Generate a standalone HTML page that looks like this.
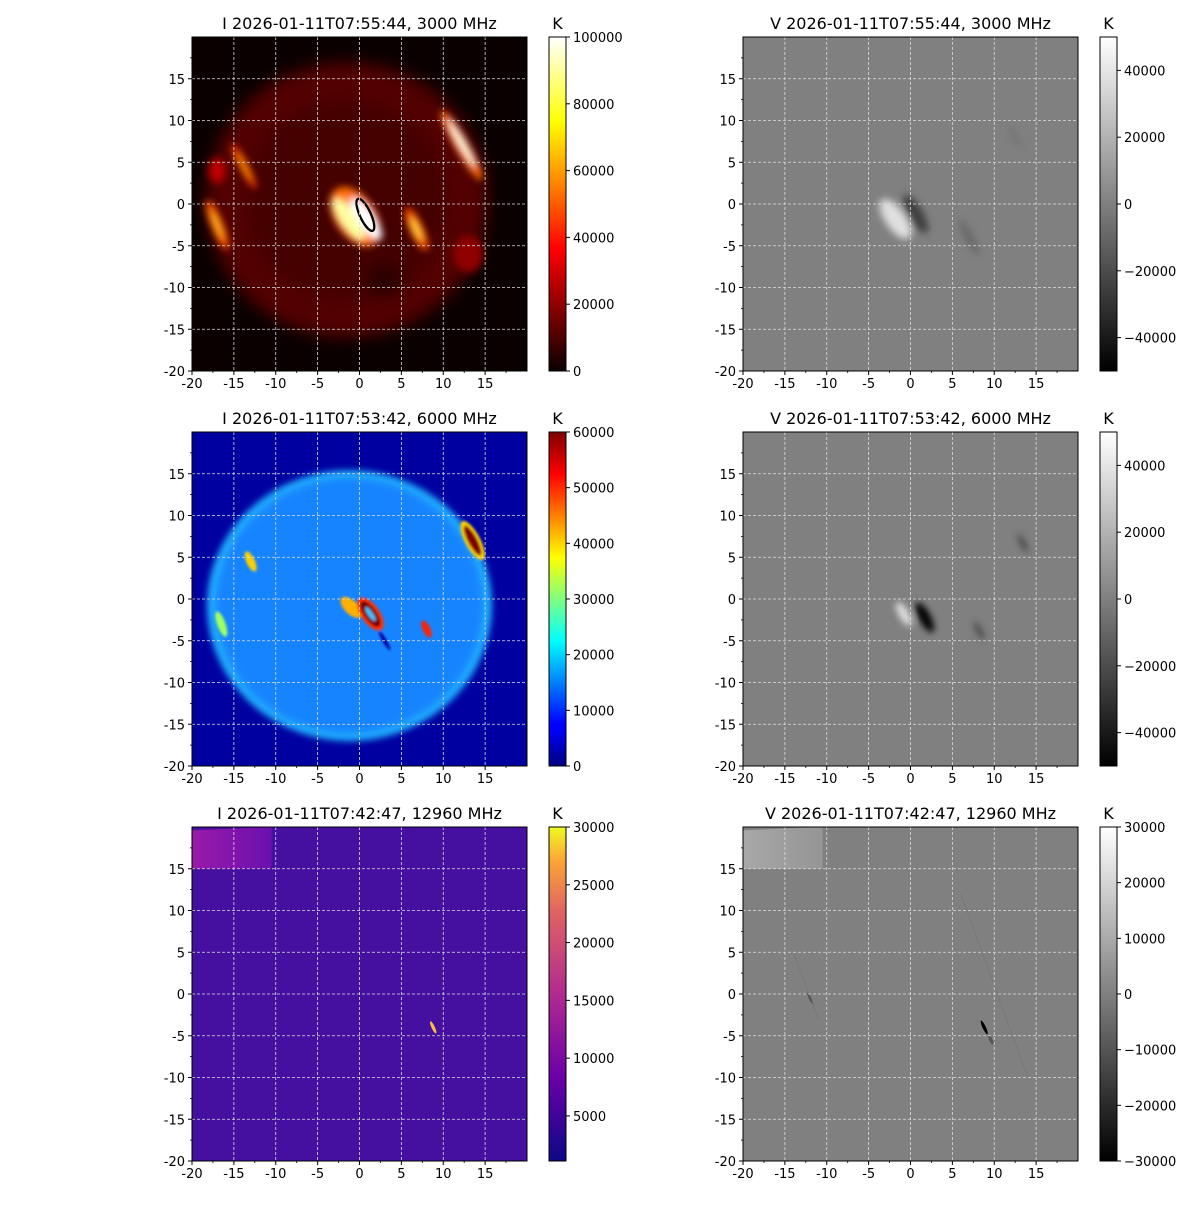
<!DOCTYPE html>
<html><head><meta charset="utf-8"><style>
html,body{margin:0;padding:0;background:#fff}
svg text{font-family:"DejaVu Sans","Liberation Sans",sans-serif;fill:#000}
</style></head><body>
<svg id="s" width="1200" height="1200" xmlns="http://www.w3.org/2000/svg">
<defs>
<filter id="b1" x="-50%" y="-50%" width="200%" height="200%"><feGaussianBlur stdDeviation="0.45"/></filter>
<filter id="b2" x="-50%" y="-50%" width="200%" height="200%"><feGaussianBlur stdDeviation="1.0"/></filter>
<filter id="b3" x="-50%" y="-50%" width="200%" height="200%"><feGaussianBlur stdDeviation="0.4"/></filter>
<filter id="b4" x="-50%" y="-50%" width="200%" height="200%"><feGaussianBlur stdDeviation="0.15"/></filter>
<linearGradient id="hot" x1="0" y1="1" x2="0" y2="0"><stop offset="0" stop-color="#0a0000"/><stop offset="0.365" stop-color="#ff0000"/><stop offset="0.746" stop-color="#ffff00"/><stop offset="1" stop-color="#ffffff"/></linearGradient>
<linearGradient id="jet" x1="0" y1="1" x2="0" y2="0"><stop offset="0" stop-color="#00007f"/><stop offset="0.11" stop-color="#0000ff"/><stop offset="0.125" stop-color="#0000ff"/><stop offset="0.375" stop-color="#00ffff"/><stop offset="0.625" stop-color="#ffff00"/><stop offset="0.875" stop-color="#ff0000"/><stop offset="1" stop-color="#7f0000"/></linearGradient>
<linearGradient id="gry" x1="0" y1="1" x2="0" y2="0"><stop offset="0" stop-color="#000"/><stop offset="1" stop-color="#fff"/></linearGradient>
<linearGradient id="pla" x1="0" y1="1" x2="0" y2="0"><stop offset="0" stop-color="#0d0887"/><stop offset="0.25" stop-color="#6a00a8"/><stop offset="0.5" stop-color="#b12a90"/><stop offset="0.75" stop-color="#e16462"/><stop offset="0.9" stop-color="#fca636"/><stop offset="1" stop-color="#f0f921"/></linearGradient>
<linearGradient id="strip" x1="0" y1="0" x2="1" y2="0"><stop offset="0" stop-color="#9a1aa8"/><stop offset="1" stop-color="#6a10b0"/></linearGradient>
<linearGradient id="stripg" x1="0" y1="0" x2="1" y2="0"><stop offset="0" stop-color="#a8a8a8"/><stop offset="1" stop-color="#959595"/></linearGradient>
</defs>

<!-- Panel 1: I 3000 -->
<svg x="192" y="37" width="335" height="334" viewBox="-20 -20 40 40" preserveAspectRatio="none">
<rect x="-20" y="-20" width="40" height="40" fill="#0a0000"/>
<ellipse cx="-1.5" cy="-0.5" rx="16.8" ry="16.5" fill="#520000" filter="url(#b2)"/>
<ellipse cx="-1.5" cy="-0.5" rx="12" ry="12" fill="#440000" filter="url(#b2)"/>
<ellipse cx="3" cy="9" rx="2" ry="2" fill="#2a0000" filter="url(#b2)"/>
<g filter="url(#b1)">
<ellipse cx="-17" cy="-4" rx="1" ry="1.5" fill="#c00000"/>
<ellipse cx="13" cy="6" rx="1.8" ry="2.2" fill="#900000"/>
<ellipse cx="-17" cy="2.5" rx="0.7" ry="3.2" fill="#ff5000" transform="rotate(-22 -17 2.5)"/>
<ellipse cx="-17" cy="2.5" rx="0.3" ry="2" fill="#ffc020" transform="rotate(-22 -17 2.5)"/>
<ellipse cx="-13.8" cy="-4.5" rx="0.5" ry="3" fill="#ff4000" transform="rotate(-28 -13.8 -4.5)"/>
<ellipse cx="-13.8" cy="-4.5" rx="0.25" ry="1.8" fill="#ffa000" transform="rotate(-28 -13.8 -4.5)"/>
<ellipse cx="12.2" cy="-7" rx="0.8" ry="4.8" fill="#ff7000" transform="rotate(-30 12.2 -7)"/>
<ellipse cx="12.2" cy="-7.3" rx="0.45" ry="3.3" fill="#fffae0" transform="rotate(-30 12.2 -7.3)"/>
<ellipse cx="6.8" cy="3" rx="0.8" ry="2.8" fill="#ff5000" transform="rotate(-25 6.8 3)"/>
<ellipse cx="6.8" cy="3" rx="0.35" ry="1.6" fill="#ffe040" transform="rotate(-25 6.8 3)"/>
<ellipse cx="-0.5" cy="1.5" rx="2.4" ry="4" fill="#ff7000" transform="rotate(-35 -0.5 1.5)"/>
<ellipse cx="-1.3" cy="1.8" rx="1.0" ry="3.0" fill="#ffffa0" transform="rotate(-35 -1.3 1.8)"/>
<ellipse cx="0.8" cy="1.8" rx="1.0" ry="3.0" fill="#fff" transform="rotate(-35 0.8 1.8)"/>
</g>
<ellipse cx="0.7" cy="1.3" rx="0.65" ry="2.1" fill="none" stroke="#000" stroke-width="0.28" transform="rotate(-25 0.7 1.3)"/>
</svg>

<!-- Panel 2: V 3000 -->
<svg x="743" y="37" width="335" height="334" viewBox="-20 -20 40 40" preserveAspectRatio="none">
<rect x="-20" y="-20" width="40" height="40" fill="#808080"/>
<g filter="url(#b1)">
<ellipse cx="-1.8" cy="1.8" rx="1.2" ry="2.8" fill="#e0e0e0" transform="rotate(-35 -1.8 1.8)"/>
<ellipse cx="0.6" cy="1.2" rx="0.9" ry="2.6" fill="#404040" transform="rotate(-30 0.6 1.2)"/>
<ellipse cx="7" cy="4" rx="0.5" ry="2.4" fill="#686868" transform="rotate(-28 7 4)"/>
<ellipse cx="12.5" cy="-8" rx="0.25" ry="1.8" fill="#707070" transform="rotate(-28 12.5 -8)"/>
</g>
</svg>

<!-- Panel 3: I 6000 -->
<svg x="192" y="432" width="335" height="334" viewBox="-20 -20 40 40" preserveAspectRatio="none">
<rect x="-20" y="-20" width="40" height="40" fill="#0000a0"/>
<ellipse cx="-1.2" cy="0.8" rx="17" ry="16.2" fill="#20b0ff" filter="url(#b3)"/>
<ellipse cx="-1.2" cy="0.8" rx="16" ry="15.3" fill="#1684ff" filter="url(#b1)"/>
<g filter="url(#b4)">
<ellipse cx="13.5" cy="-7" rx="0.9" ry="2.6" fill="#ffd000" transform="rotate(-28 13.5 -7)"/>
<ellipse cx="13.5" cy="-7" rx="0.55" ry="2" fill="#800000" transform="rotate(-28 13.5 -7)"/>
<ellipse cx="-13" cy="-4.5" rx="0.5" ry="1.3" fill="#ffd000" transform="rotate(-25 -13 -4.5)"/>
<ellipse cx="-16.5" cy="3" rx="0.5" ry="1.6" fill="#a0ff60" transform="rotate(-20 -16.5 3)"/>
<ellipse cx="8" cy="3.6" rx="0.45" ry="1.1" fill="#ff2000" transform="rotate(-25 8 3.6)"/>
<ellipse cx="-1" cy="1" rx="0.8" ry="1.6" fill="#ffb000" transform="rotate(-45 -1 1)"/>
<ellipse cx="1.3" cy="1.8" rx="1.1" ry="2.3" fill="#ff3000" transform="rotate(-35 1.3 1.8)"/>
<ellipse cx="1.3" cy="1.8" rx="0.7" ry="1.8" fill="#700000" transform="rotate(-35 1.3 1.8)"/>
<ellipse cx="1.3" cy="1.8" rx="0.3" ry="1" fill="#40c0ff" transform="rotate(-35 1.3 1.8)"/>
<ellipse cx="3" cy="5" rx="0.25" ry="1.3" fill="#0000a0" transform="rotate(-30 3 5)"/>
</g>
</svg>

<!-- Panel 4: V 6000 -->
<svg x="743" y="432" width="335" height="334" viewBox="-20 -20 40 40" preserveAspectRatio="none">
<rect x="-20" y="-20" width="40" height="40" fill="#808080"/>
<g filter="url(#b3)">
<ellipse cx="-0.8" cy="1.8" rx="0.6" ry="1.6" fill="#e0e0e0" transform="rotate(-30 -0.8 1.8)"/>
<ellipse cx="1.7" cy="2.2" rx="0.7" ry="2" fill="#000" transform="rotate(-28 1.7 2.2)"/>
<ellipse cx="8.2" cy="3.8" rx="0.3" ry="1.2" fill="#404040" transform="rotate(-28 8.2 3.8)"/>
<ellipse cx="13.4" cy="-6.7" rx="0.3" ry="1.2" fill="#404040" transform="rotate(-28 13.4 -6.7)"/>
</g>
</svg>

<!-- Panel 5: I 12960 -->
<svg x="192" y="827" width="335" height="334" viewBox="-20 -20 40 40" preserveAspectRatio="none">
<rect x="-20" y="-20" width="40" height="40" fill="#4510a0"/>
<polygon points="-20,-19.6 -10.5,-20 -10.5,-15 -20,-15" fill="url(#strip)"/>
<ellipse cx="8.8" cy="4" rx="0.2" ry="0.8" fill="#f8c040" transform="rotate(-25 8.8 4)"/>
</svg>

<!-- Panel 6: V 12960 -->
<svg x="743" y="827" width="335" height="334" viewBox="-20 -20 40 40" preserveAspectRatio="none">
<rect x="-20" y="-20" width="40" height="40" fill="#808080"/>
<polygon points="-20,-19.6 -10.5,-20 -10.5,-15 -20,-15" fill="url(#stripg)"/>
<g stroke="#747474" stroke-width="0.12" opacity="0.6">
<line x1="-14" y1="-5" x2="-11" y2="3"/><line x1="6" y1="-12" x2="14" y2="10"/>
</g>
<ellipse cx="8.8" cy="4" rx="0.2" ry="0.9" fill="#000" transform="rotate(-25 8.8 4)"/>
<ellipse cx="9.6" cy="5.5" rx="0.2" ry="0.6" fill="#555" transform="rotate(-25 9.6 5.5)"/>
<ellipse cx="-12" cy="0.5" rx="0.15" ry="0.7" fill="#555" transform="rotate(-25 -12 0.5)"/>
</svg>

<g id="ov"></g>
</svg>
<script>
var ov=document.getElementById('ov');
var h='';
var panels=[
 [192,37,'I 2026-01-11T07:55:44, 3000 MHz','hot',0,100000,[0,20000,40000,60000,80000,100000]],
 [743,37,'V 2026-01-11T07:55:44, 3000 MHz','gry',-50000,50000,[-40000,-20000,0,20000,40000]],
 [192,432,'I 2026-01-11T07:53:42, 6000 MHz','jet',0,60000,[0,10000,20000,30000,40000,50000,60000]],
 [743,432,'V 2026-01-11T07:53:42, 6000 MHz','gry',-50000,50000,[-40000,-20000,0,20000,40000]],
 [192,827,'I 2026-01-11T07:42:47, 12960 MHz','pla',1100,30000,[5000,10000,15000,20000,25000,30000]],
 [743,827,'V 2026-01-11T07:42:47, 12960 MHz','gry',-30000,30000,[-30000,-20000,-10000,0,10000,20000,30000]]
];
var W=335,H=334,sx=W/40,sy=H/40;
panels.forEach(function(p){
 var x0=p[0],y0=p[1];
 for(var v=-15;v<=15;v+=5){
  var X=x0+(v+20)*sx, Y=y0+(20-v)*sy;
  h+='<line x1="'+X+'" y1="'+y0+'" x2="'+X+'" y2="'+(y0+H)+'" stroke="#ddd" stroke-width="0.8" stroke-dasharray="3,2"/>';
  h+='<line x1="'+x0+'" y1="'+Y+'" x2="'+(x0+W)+'" y2="'+Y+'" stroke="#ddd" stroke-width="0.8" stroke-dasharray="3,2"/>';
 }
 h+='<rect x="'+x0+'" y="'+y0+'" width="'+W+'" height="'+H+'" fill="none" stroke="#000" stroke-width="1"/>';
 for(var v=-20;v<=15;v+=5){
  var X=x0+(v+20)*sx, Y=y0+(20-v)*sy;
  h+='<line x1="'+X+'" y1="'+(y0+H)+'" x2="'+X+'" y2="'+(y0+H+4)+'" stroke="#000"/>';
  h+='<text x="'+X+'" y="'+(y0+H+17)+'" font-size="13" text-anchor="middle">'+v+'</text>';
  h+='<line x1="'+x0+'" y1="'+Y+'" x2="'+(x0-4)+'" y2="'+Y+'" stroke="#000"/>';
  h+='<text x="'+(x0-7)+'" y="'+(Y+5)+'" font-size="13" text-anchor="end">'+v+'</text>';
 }
 for(var v=-17.5;v<20;v+=2.5){ if(v%5==0)continue;
  var X=x0+(v+20)*sx, Y=y0+(20-v)*sy;
  h+='<line x1="'+X+'" y1="'+(y0+H)+'" x2="'+X+'" y2="'+(y0+H+2)+'" stroke="#000" stroke-width="0.8"/>';
  h+='<line x1="'+x0+'" y1="'+Y+'" x2="'+(x0-2)+'" y2="'+Y+'" stroke="#000" stroke-width="0.8"/>';
 }
 h+='<text x="'+(x0+W/2)+'" y="'+(y0-8)+'" font-size="16" text-anchor="middle">'+p[2]+'</text>';
 var cx=x0+357, cw=17;
 h+='<rect x="'+cx+'" y="'+y0+'" width="'+cw+'" height="'+H+'" fill="url(#'+p[3]+')" stroke="#000" stroke-width="1"/>';
 h+='<text x="'+(cx+cw/2)+'" y="'+(y0-8)+'" font-size="16" text-anchor="middle">K</text>';
 p[6].forEach(function(t){
  var Y=y0+H-(t-p[4])/(p[5]-p[4])*H;
  h+='<line x1="'+(cx+cw)+'" y1="'+Y+'" x2="'+(cx+cw+4)+'" y2="'+Y+'" stroke="#000"/>';
  h+='<text x="'+(cx+cw+7)+'" y="'+(Y+5)+'" font-size="13">'+(t<0?'\u2212'+(-t):t)+'</text>';
 });
});
ov.innerHTML=h;
</script>
</body></html>
